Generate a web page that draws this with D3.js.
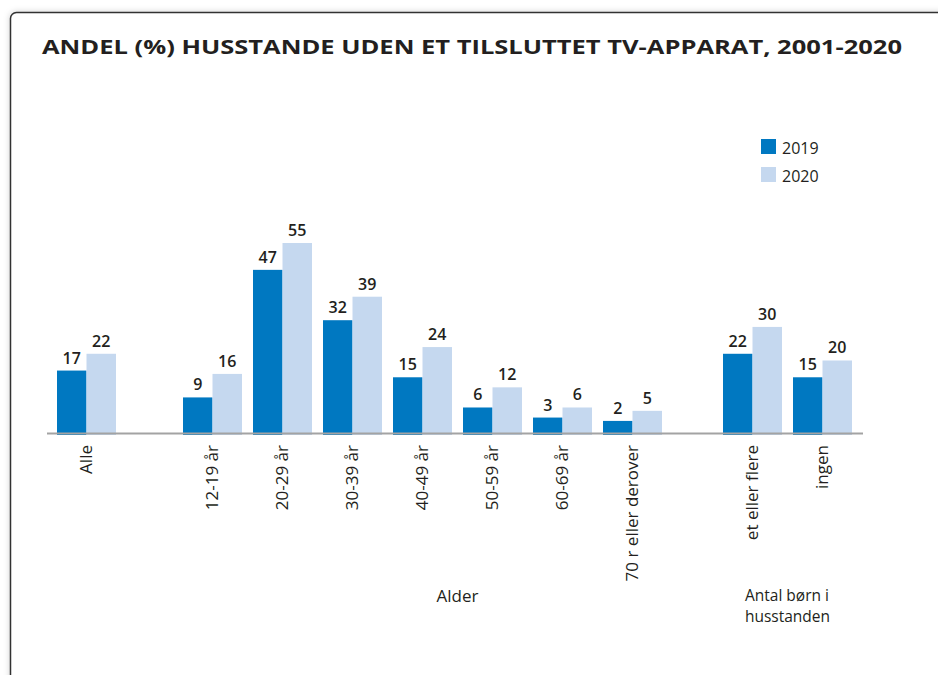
<!DOCTYPE html>
<html>
<head>
<meta charset="utf-8">
<script src="https://cdn.jsdelivr.net/npm/d3@7"></script>
<style>
  body { margin: 0; background: #fff; }
  svg { display: block; font-family: "Open Sans", Roboto, sans-serif; }
</style>
</head>
<body>
<svg width="938" height="675"></svg>
<script>
// data
const categories = ["Alle", "12-19 år", "20-29 år", "30-39 år", "40-49 år", "50-59 år", "60-69 år", "70 r eller derover", "et eller flere", "ingen"];
const sectionOf = [0, 1, 1, 1, 1, 1, 1, 1, 2, 2];
const sectionNames = ["", "Alder", "Antal børn i husstanden"];
const values2019 = [17, 9, 47, 32, 15, 6, 3, 2, 22, 15];
const values2020 = [22, 16, 55, 39, 24, 12, 6, 5, 30, 20];
const seriesNames = ["2019", "2020"];
const seriesColors = ["#0078c1", "#c5d8ef"];

var svg = d3.select("svg"),
    width = +svg.attr("width"),
    height = +svg.attr("height");

// card with a soft shadow
var defs = svg.append("defs");
var shadow = defs.append("filter").attr("id", "shadow")
    .attr("x", "-10%").attr("y", "-10%").attr("width", "120%").attr("height", "120%");
shadow.append("feDropShadow")
    .attr("dx", 0).attr("dy", 0)
    .attr("stdDeviation", 3)
    .attr("flood-color", "#000")
    .attr("flood-opacity", 0.18);

svg.append("rect")
    .attr("x", 10.5).attr("y", 12.5)
    .attr("width", 1000).attr("height", 1000)
    .attr("rx", 6)
    .attr("fill", "#fff")
    .attr("stroke", "#333")
    .attr("stroke-width", 1.5)
    .attr("filter", "url(#shadow)");

svg.append("text")
    .attr("x", 42).attr("y", 53.5)
    .attr("font-size", 20)
    .attr("font-weight", 700)
    .attr("fill", "#231f20")
    .attr("textLength", 860)
    .attr("lengthAdjust", "spacingAndGlyphs")
    .text("ANDEL (%) HUSSTANDE UDEN ET TILSLUTTET TV-APPARAT, 2001-2020");

// scales
var baseY = 433;
var y = d3.scaleLinear().domain([-1.6, 55]).range([baseY, 243]);

var x = d3.scaleBand()
    .domain(categories)
    .range([51.5, 751.5])
    .paddingInner(11 / 70)
    .paddingOuter(11 / 140);

var sectionGap = [0, 56, 106]; // extra space before each section
function groupX(i) { return x(categories[i]) + sectionGap[sectionOf[i]]; }

var xSeries = d3.scaleBand().domain(seriesNames).range([0, x.bandwidth()]);

var rows = categories.map((c, i) => ({
    cat: c, i: i,
    vals: [values2019[i], values2020[i]]
}));

var groups = svg.selectAll(".group")
    .data(rows)
    .enter().append("g")
    .attr("class", "group")
    .attr("transform", d => `translate(${groupX(d.i)},0)`);

groups.selectAll("rect")
    .data(d => d.vals.map((v, k) => ({ v: v, s: seriesNames[k], k: k })))
    .enter().append("rect")
    .attr("x", d => xSeries(d.s))
    .attr("y", d => y(d.v))
    .attr("width", xSeries.bandwidth())
    .attr("height", d => baseY + 2 - y(d.v))
    .attr("fill", d => seriesColors[d.k]);

groups.selectAll(".val")
    .data(d => d.vals.map((v, k) => ({ v: v, s: seriesNames[k] })))
    .enter().append("text")
    .attr("class", "val")
    .attr("x", d => xSeries(d.s) + xSeries.bandwidth() / 2)
    .attr("y", d => y(d.v) - 7)
    .attr("text-anchor", "middle")
    .attr("font-size", 16)
    .attr("font-weight", 600)
    .attr("fill", "#231f20")
    .text(d => d.v);

// axis line
var first = groupX(0), last = groupX(categories.length - 1) + x.bandwidth();
svg.append("line")
    .attr("x1", first - 10).attr("x2", last + 11)
    .attr("y1", baseY + 0.5).attr("y2", baseY + 0.5)
    .attr("stroke", "#a3a3a3")
    .attr("stroke-width", 2);

// category labels, rotated
groups.append("text")
    .attr("transform", `translate(${x.bandwidth() / 2},445) rotate(-90)`)
    .attr("text-anchor", "end")
    .attr("dy", "0.35em")
    .attr("font-size", 17)
    .attr("fill", "#231f20")
    .text(d => d.cat);

// section titles
var ageIdx = categories.indexOf("40-49 år");
svg.append("text")
    .attr("x", (groupX(ageIdx) + x.bandwidth() + groupX(ageIdx + 1)) / 2)
    .attr("y", 602)
    .attr("text-anchor", "middle")
    .attr("font-size", 17)
    .attr("fill", "#231f20")
    .text(sectionNames[1]);

var kidIdx = categories.map((c, i) => i).filter(i => sectionOf[i] === 2);
var kidCenter = (groupX(kidIdx[0]) + groupX(kidIdx[kidIdx.length - 1]) + x.bandwidth()) / 2;
var kidLines = ["Antal børn i", "husstanden"];
var kidText = svg.selectAll(".kid")
    .data(kidLines)
    .enter().append("text")
    .attr("class", "kid")
    .attr("y", (d, i) => 600.5 + i * 21)
    .attr("font-size", 15.5)
    .attr("fill", "#231f20")
    .text(d => d);
var kidW = d3.max(kidText.nodes(), n => n.getComputedTextLength());
kidText.attr("x", kidCenter - kidW / 2);

// legend
var legend = svg.selectAll(".legend")
    .data(seriesNames)
    .enter().append("g")
    .attr("class", "legend")
    .attr("transform", (d, i) => `translate(761,${139 + i * 28})`);

legend.append("rect")
    .attr("width", 15).attr("height", 15)
    .attr("fill", (d, i) => seriesColors[i]);

legend.append("text")
    .attr("x", 21).attr("y", 15)
    .attr("font-size", 16)
    .attr("fill", "#231f20")
    .text(d => d);
</script>
</body>
</html>
